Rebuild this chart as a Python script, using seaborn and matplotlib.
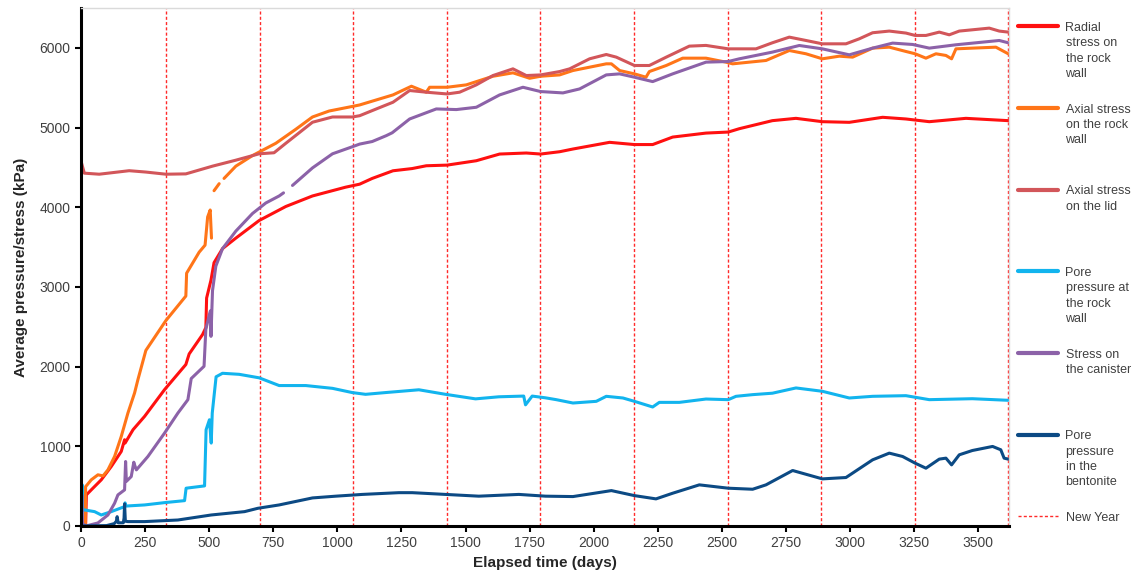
import pandas as pd
import numpy as np
import matplotlib
matplotlib.use("Agg")
import matplotlib.pyplot as plt
from matplotlib.lines import Line2D
import seaborn as sns

# --- dane (dni, kPa) ---
radial_x = [18, 21, 40, 79, 118, 157, 170, 172, 203, 248, 326, 409, 422, 474, 487, 490, 507, 519,
            552, 604, 695, 799, 903, 1032, 1087, 1136, 1217, 1292, 1347, 1428, 1542, 1633, 1737,
            1793, 1867, 1919, 2062, 2159, 2230, 2308, 2438, 2525, 2568, 2697, 2789, 2892, 2997,
            3127, 3218, 3309, 3452, 3617]
radial_y = [0, 390, 453, 579, 746, 935, 1082, 1040, 1208, 1375, 1711, 2026, 2159, 2401, 2489, 2860,
            3084, 3304, 3480, 3612, 3833, 4009, 4141, 4251, 4289, 4361, 4457, 4485, 4520, 4528,
            4583, 4667, 4680, 4667, 4696, 4730, 4814, 4786, 4786, 4880, 4930, 4943, 4985, 5086,
            5115, 5073, 5065, 5128, 5107, 5073, 5115, 5086]

axial_x = [17, 18, 25, 40, 66, 86, 105, 131, 157, 183, 209, 222, 253, 331, 409, 412, 461, 484, 494,
           504, 509,
           519, 539,
           558, 604, 669, 721, 760, 838, 903, 968, 1058, 1087, 1217, 1289, 1347, 1360, 1428, 1503,
           1607, 1685, 1750, 1793, 1867, 1919, 2049, 2069, 2101, 2159, 2204, 2217, 2283, 2347,
           2438, 2516, 2542, 2672, 2763, 2828, 2892, 2958, 3010, 3088, 3153, 3218, 3254, 3296,
           3335, 3374, 3396, 3413, 3477, 3569, 3617]
axial_y = [0, 494, 520, 579, 642, 629, 704, 872, 1123, 1417, 1669, 1836, 2203, 2577, 2885, 3172,
           3436, 3524, 3877, 3965, 3612,
           4207, 4295,
           4361, 4515, 4648, 4736, 4802, 4978, 5132, 5207, 5264, 5283, 5409, 5518, 5443, 5505,
           5505, 5535, 5643, 5686, 5618, 5643, 5660, 5715, 5799, 5799, 5715, 5673, 5631, 5702,
           5778, 5870, 5870, 5820, 5799, 5841, 5966, 5925, 5862, 5895, 5883, 5996, 6008, 5954,
           5925, 5870, 5925, 5904, 5862, 5987, 5996, 6008, 5925]
axial_seg = [0] * 21 + [1] * 2 + [2] * 51

lid_x = [0, 13, 71, 188, 253, 331, 409, 513, 604, 695, 753, 799, 903, 981, 1058, 1087, 1152, 1217,
         1282, 1347, 1428, 1477, 1542, 1607, 1685, 1737, 1793, 1867, 1906, 1984, 2049, 2088, 2159,
         2217, 2283, 2373, 2438, 2525, 2633, 2697, 2763, 2828, 2892, 2984, 3036, 3088, 3153, 3218,
         3254, 3296, 3348, 3387, 3426, 3477, 3543, 3582, 3617]
lid_y = [4580, 4427, 4414, 4458, 4441, 4414, 4418, 4515, 4590, 4670, 4683, 4802, 5066, 5132, 5132,
         5148, 5233, 5317, 5464, 5443, 5421, 5443, 5535, 5652, 5736, 5652, 5660, 5702, 5736, 5862,
         5916, 5883, 5778, 5778, 5883, 6021, 6030, 5987, 5987, 6063, 6134, 6092, 6050, 6050, 6113,
         6189, 6210, 6185, 6155, 6155, 6197, 6163, 6210, 6226, 6247, 6210, 6197]

pore_wall_x = [3, 5, 6, 14, 53, 79, 118, 170, 172, 175, 248, 326, 404, 410, 482, 488, 501, 508, 512,
               527, 552, 617, 695, 773, 877, 981, 1058, 1110, 1188, 1318, 1422, 1539, 1630, 1727,
               1734, 1760, 1812, 1854, 1919, 2010, 2049, 2114, 2159, 2230, 2256, 2334, 2438, 2525,
               2555, 2620, 2697, 2789, 2892, 2997, 3088, 3218, 3309, 3477, 3617]
pore_wall_y = [0, 516, 201, 201, 180, 138, 180, 243, 290, 250, 264, 293, 318, 474, 503, 1208, 1333,
               1040, 1417, 1872, 1916, 1903, 1859, 1762, 1762, 1727, 1674, 1652, 1674, 1709, 1652,
               1595, 1621, 1630, 1520, 1630, 1608, 1585, 1543, 1564, 1627, 1606, 1564, 1493, 1551,
               1551, 1593, 1585, 1627, 1648, 1666, 1732, 1690, 1606, 1627, 1635, 1585, 1597, 1577]

canister_x = [0, 3, 6, 20, 66, 105, 131, 144, 170, 174, 177, 183, 196, 206, 209, 216, 261, 326, 378,
              417, 430, 480, 487, 500, 505, 507, 513, 526, 552, 604, 669, 721, 773, 790,
              825, 903, 981, 1058, 1087, 1136, 1191, 1214, 1282, 1386, 1464, 1542, 1633, 1724,
              1793, 1880, 1945, 2049, 2101, 2159, 2230, 2308, 2438, 2525, 2568, 2697, 2802, 2892,
              2997, 3088, 3166, 3244, 3309, 3413, 3582, 3617]
canister_y = [0, 390, 30, 0, 38, 138, 285, 390, 453, 809, 560, 579, 620, 800, 767, 704, 872, 1166,
              1417, 1585, 1850, 2004, 2467, 2643, 2700, 2379, 2952, 3260, 3480, 3700, 3921, 4053,
              4141, 4180,
              4273, 4493, 4670, 4758, 4792, 4824, 4898, 4934, 5107, 5233, 5225, 5254, 5409, 5505,
              5451, 5434, 5484, 5660, 5673, 5631, 5576, 5673, 5820, 5828, 5862, 5946, 6029, 5987,
              5912, 5996, 6059, 6042, 5996, 6038, 6092, 6063]
canister_seg = [0] * 34 + [1] * 36

bentonite_x = [0, 100, 130, 138, 141, 145, 165, 168, 170, 173, 183, 248, 378, 508, 638, 690, 773,
               903, 994, 1097, 1240, 1292, 1422, 1552, 1708, 1812, 1919, 2069, 2159, 2243, 2308,
               2412, 2525, 2620, 2672, 2776, 2892, 2984, 3088, 3153, 3205, 3254, 3296, 3348, 3374,
               3396, 3426, 3477, 3556, 3588, 3601, 3617]
bentonite_y = [0, 5, 30, 60, 117, 40, 40, 100, 277, 60, 55, 55, 75, 138, 180, 222, 264, 352, 374,
               396, 418, 418, 396, 374, 396, 374, 369, 444, 381, 340, 411, 516, 474, 461, 516, 696,
               591, 608, 830, 914, 872, 788, 725, 839, 851, 767, 893, 947, 998, 956, 851, 839]

new_year = [331, 697, 1062, 1427, 1792, 2158, 2523, 2888, 3253, 3618]

labels = ["Radial\nstress on\nthe rock\nwall",
          "Axial stress\non the rock\nwall\n",
          "Axial stress\non the lid\n\n",
          "Pore\npressure at\nthe rock\nwall",
          "Stress on\nthe canister\n\n",
          "Pore\npressure\nin the\nbentonite",
          "New Year"]
colors = ["#ff1010", "#ff7518", "#d2565a", "#12b4ee", "#8c62a8", "#0c4a84"]


def frame(x, y, name, seg=None):
    if seg is None:
        seg = [0] * len(x)
    return pd.DataFrame({"days": x, "kpa": y, "series": name,
                         "seg": [name + str(s) for s in seg]})


df = pd.concat([
    frame(radial_x, radial_y, labels[0]),
    frame(axial_x, axial_y, labels[1], axial_seg),
    frame(lid_x, lid_y, labels[2]),
    frame(pore_wall_x, pore_wall_y, labels[3]),
    frame(canister_x, canister_y, labels[4], canister_seg),
    frame(bentonite_x, bentonite_y, labels[5]),
], ignore_index=True)

sns.set_style("white")
plt.rcParams["font.family"] = ["Liberation Sans", "DejaVu Sans"]

fig = plt.figure(figsize=(11.36, 5.81), dpi=100)
ax = fig.add_axes([0.0713, 0.0947, 0.8169, 0.8916])

for d in new_year:
    ax.axvline(d, color="#ff2a2a", lw=1.0, ls=(0, (2.2, 1.6)), zorder=1)

sns.lineplot(data=df, x="days", y="kpa", hue="series", units="seg", estimator=None,
             sort=False, palette=dict(zip(labels[:6], colors)), linewidth=2.2,
             legend=False, ax=ax, zorder=2)

ax.set_xlim(0, 3620)
ax.set_ylim(0, 6500)
ax.set_xticks(np.arange(0, 3501, 250))
ax.set_yticks(np.arange(0, 6001, 1000))
ax.tick_params(axis="both", labelsize=10, labelcolor="#404040", color="black",
               direction="out", length=4, width=1.5, left=True, bottom=True)
ax.set_xlabel("Elapsed time (days)", fontsize=11, fontweight="bold", color="#262626", labelpad=4)
ax.set_ylabel("Average pressure/stress (kPa)", fontsize=11, fontweight="bold", color="#262626",
              labelpad=8)

for side in ["left", "bottom"]:
    ax.spines[side].set_color("black")
    ax.spines[side].set_linewidth(2.2)
for side in ["top", "right"]:
    ax.spines[side].set_color("#dadada")
    ax.spines[side].set_linewidth(1.0)

handles = [Line2D([], [], color=c, lw=3) for c in colors]
handles.append(Line2D([], [], color="#ff2a2a", lw=1.0, ls=(0, (2.2, 1.6))))
leg = fig.legend(handles, labels, loc="upper left", bbox_to_anchor=(1018 / 1136, 1 - 22 / 581),
                 frameon=False, fontsize=9, handlelength=3.2, handletextpad=0.6,
                 labelspacing=1.87, borderpad=0, borderaxespad=0)
for t in leg.get_texts():
    t.set_color("#404040")
    t.set_linespacing(1.38)
# uchwyt przy pierwszej linii opisu
for col in leg._legend_handle_box.get_children():
    for row in col.get_children():
        row.align = "top"

fig.savefig("out.png", dpi=100)
